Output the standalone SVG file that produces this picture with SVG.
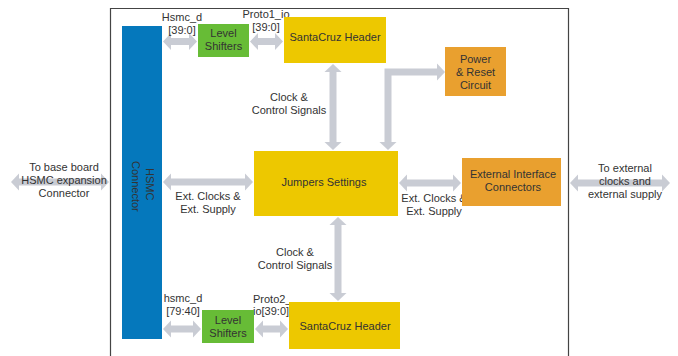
<svg xmlns="http://www.w3.org/2000/svg" width="678" height="356" viewBox="0 0 678 356">
<style>
text{font-family:"Liberation Sans",Arial,sans-serif;font-size:11px;fill:#333;text-anchor:middle}
.arr{fill:#C9CCD4;stroke:none}
.blue{fill:#0578BC}
.green{fill:#67BC36}
.yellow{fill:#EDC800}
.orange{fill:#E9A02F}
</style>
<rect x="0" y="0" width="678" height="356" fill="#ffffff"/>
<g id="frame">
<path d="M110.5,360 V8.5 H568.5 V360" fill="none" stroke="#444" stroke-width="1.2"/>
</g>
<g id="connectors">
<polygon class="arr" points="163,41.5 171,33 171,38 189,38 189,33 197,41.5 189,50 189,45 171,45 171,50"/>
<polygon class="arr" points="250,41.5 258,33 258,38 275,38 275,33 283,41.5 275,50 275,45 258,45 258,50"/>
<polygon class="arr" points="333,64 341.5,72 336.5,72 336.5,142 341.5,142 333,150 324.5,142 329.5,142 329.5,72 324.5,72"/>
<polygon class="arr" points="388,150 379.5,142 384.5,142 384.5,68.5 437,68.5 437,63.5 445,72 437,80.5 437,75.5 391.5,75.5 391.5,142 396.5,142"/>
<polygon class="arr" points="163,182 171,173.5 171,178.5 245,178.5 245,173.5 253,182 245,190.5 245,185.5 171,185.5 171,190.5"/>
<polygon class="arr" points="11,182 19,173.5 19,178.5 101,178.5 101,173.5 109,182 101,190.5 101,185.5 19,185.5 19,190.5"/>
<polygon class="arr" points="399,183 407,174.5 407,179.5 453,179.5 453,174.5 461,183 453,191.5 453,186.5 407,186.5 407,191.5"/>
<polygon class="arr" points="570,183 578,174.5 578,179.5 662,179.5 662,174.5 670,183 662,191.5 662,186.5 578,186.5 578,191.5"/>
<polygon class="arr" points="338,217 346.5,225 341.5,225 341.5,293 346.5,293 338,301 329.5,293 334.5,293 334.5,225 329.5,225"/>
<polygon class="arr" points="163,329 171,320.5 171,325.5 193,325.5 193,320.5 201,329 193,337.5 193,332.5 171,332.5 171,337.5"/>
<polygon class="arr" points="255,329 263,320.5 263,325.5 280,325.5 280,320.5 288,329 280,337.5 280,332.5 263,332.5 263,337.5"/>
<text x="182" y="21">Hsmc_d</text>
<text x="182" y="34">[39:0]</text>
<text x="266" y="18">Proto1_io</text>
<text x="266" y="31">[39:0]</text>
<text x="289" y="101">Clock &amp;</text>
<text x="289" y="114">Control Signals</text>
<text x="208" y="200">Ext. Clocks &amp;</text>
<text x="208" y="213">Ext. Supply</text>
<text x="434" y="202">Ext. Clocks &amp;</text>
<text x="434" y="215">Ext. Supply</text>
<text x="64" y="171">To base board</text>
<text x="64" y="184">HSMC expansion</text>
<text x="64" y="197">Connector</text>
<text x="625" y="172">To external</text>
<text x="625" y="185">clocks and</text>
<text x="625" y="198">external supply</text>
<text x="295" y="256">Clock &amp;</text>
<text x="295" y="269">Control Signals</text>
<text x="183" y="302">hsmc_d</text>
<text x="183" y="315">[79:40]</text>
<text x="253" y="303" style="text-anchor:start">Proto2_</text>
<text x="253" y="315" style="text-anchor:start">io[39:0]</text>
</g>
<g id="hsmc">
<rect class="blue" x="122" y="26" width="40" height="313"/>
<text transform="translate(146,168) rotate(90)" style="text-anchor:start">HSMC</text>
<text transform="translate(132,161) rotate(90)" style="text-anchor:start">Connector</text>
</g>
<g id="ls-top">
<rect class="green" x="198" y="24" width="51" height="33"/>
<text x="223.5" y="37">Level</text>
<text x="223.5" y="50">Shifters</text>
</g>
<g id="sc-top">
<rect class="yellow" x="284" y="17" width="102" height="46"/>
<text x="335" y="41">SantaCruz Header</text>
</g>
<g id="power">
<rect class="orange" x="445" y="47" width="61" height="49"/>
<text x="475.5" y="63">Power</text>
<text x="475.5" y="76">&amp; Reset</text>
<text x="475.5" y="89">Circuit</text>
</g>
<g id="jumpers">
<rect class="yellow" x="254" y="151" width="144" height="65"/>
<text x="324" y="186">Jumpers Settings</text>
</g>
<g id="ext-if">
<rect class="orange" x="462" y="158" width="99" height="48"/>
<text x="513" y="178">External Interface</text>
<text x="513" y="191">Connectors</text>
</g>
<g id="ls-bottom">
<rect class="green" x="202" y="310" width="52" height="33"/>
<text x="228" y="324">Level</text>
<text x="228" y="337">Shifters</text>
</g>
<g id="sc-bottom">
<rect class="yellow" x="289" y="302" width="111" height="47"/>
<text x="345" y="330">SantaCruz Header</text>
</g>
</svg>
